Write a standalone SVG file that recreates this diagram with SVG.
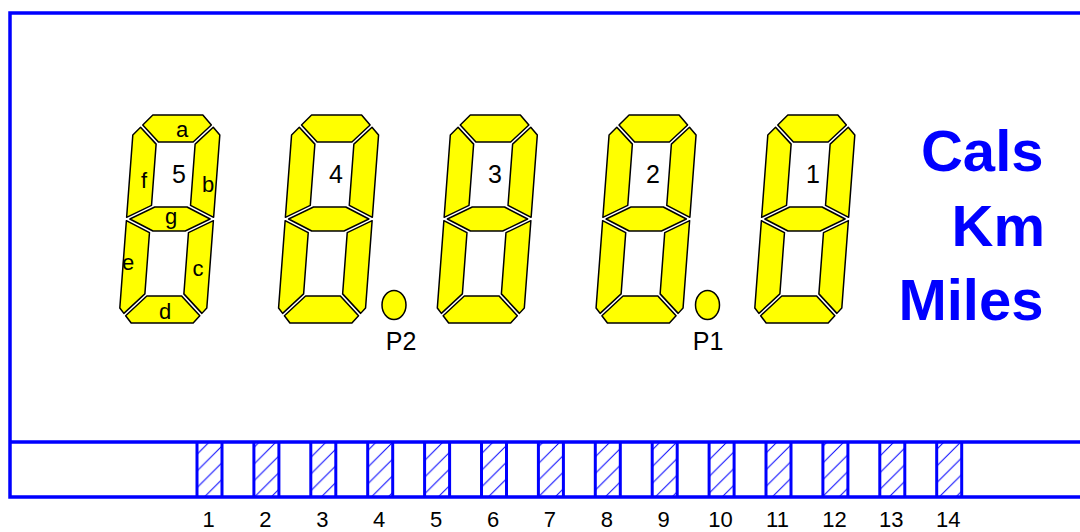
<svg xmlns="http://www.w3.org/2000/svg" width="1080" height="532" viewBox="0 0 1080 532">
<style>
.seg{fill:#ffff00;stroke:#000;stroke-width:1.5;stroke-linejoin:round}
.lbl{font-family:"Liberation Sans",Arial,sans-serif;fill:#000;text-anchor:middle}
.dl{font-size:25px}
.sl{font-size:22px}
.pl{font-size:25px}
.nl{font-size:22px}
.unit{font-family:"Liberation Sans",Arial,sans-serif;font-weight:bold;font-size:58px;fill:#0000ff;text-anchor:end}
.frame{fill:none;stroke:#0000ff;stroke-width:3.5}
.pin{fill:url(#hatch);stroke:none}
.pinl{stroke:#0000ff;stroke-width:3;fill:none}
</style>
<defs>
<pattern id="hatch" patternUnits="userSpaceOnUse" width="16.7" height="16.7">
<path d="M0,16.7 L16.7,0 M-2,2 L2,-2 M14.7,18.7 L18.7,14.7" stroke="#0000ff" stroke-width="1"/>
</pattern>
<g id="dg">
<path class="seg" d="M-17.38,-77 L-34.31,-93.93 L-25,-104 L25,-104 L34.31,-93.93 L17.38,-77 Z"/>
<path class="seg" d="M-19.5,-74.88 L-36.35,-91.73 L-43.5,-84 L-43.5,-1.68 L-19.5,-13.68 Z"/>
<path class="seg" d="M19.5,-74.88 L36.35,-91.73 L43.5,-84 L43.5,-1.68 L19.5,-13.68 Z"/>
<path class="seg" d="M-40.14,0 L-16.14,-12 L16.14,-12 L40.14,0 L16.14,12 L-16.14,12 Z"/>
<path class="seg" d="M-19.5,13.68 L-43.5,1.68 L-43.5,89 L-39.01,94.39 L-19.5,74.88 Z"/>
<path class="seg" d="M19.5,13.68 L43.5,1.68 L43.5,89 L39.01,94.39 L19.5,74.88 Z"/>
<path class="seg" d="M-17.38,77 L-37.08,96.7 L-31,104 L31,104 L37.08,96.7 L17.38,77 Z"/>
</g>
</defs>
<rect x="0" y="0" width="1080" height="532" fill="#fff"/>
<g id="frame">
<path class="frame" d="M1080,13 L10,13 L10,497 L1080,497 M10,442 L1080,442"/>
</g>
<g id="digit5">
<use href="#dg" transform="translate(170,219) skewX(-4.3)"/>
<text class="lbl dl" x="179" y="183">5</text>
<text class="lbl sl" x="182" y="137">a</text>
<text class="lbl sl" x="208" y="192">b</text>
<text class="lbl sl" x="198" y="276">c</text>
<text class="lbl sl" x="165" y="319">d</text>
<text class="lbl sl" x="128" y="270">e</text>
<text class="lbl sl" x="144" y="188">f</text>
<text class="lbl sl" x="171" y="224">g</text>
</g>
<g id="digit4">
<use href="#dg" transform="translate(328.75,219) skewX(-4.3)"/>
<text class="lbl dl" x="336" y="183">4</text>
</g>
<g id="digit3">
<use href="#dg" transform="translate(487.5,219) skewX(-4.3)"/>
<text class="lbl dl" x="495" y="183">3</text>
</g>
<g id="digit2">
<use href="#dg" transform="translate(646.25,219) skewX(-4.3)"/>
<text class="lbl dl" x="653" y="183">2</text>
</g>
<g id="digit1">
<use href="#dg" transform="translate(805,219) skewX(-4.3)"/>
<text class="lbl dl" x="813" y="183">1</text>
</g>
<g id="p2">
<ellipse class="seg" cx="394" cy="305" rx="12" ry="14.5"/>
<text class="lbl pl" x="401" y="350">P2</text>
</g>
<g id="p1">
<ellipse class="seg" cx="707.5" cy="305" rx="12" ry="14.5"/>
<text class="lbl pl" x="708" y="350">P1</text>
</g>
<g id="units">
<text class="unit" x="1043.5" y="171">Cals</text>
<text class="unit" x="1045" y="246">Km</text>
<text class="unit" x="1043.5" y="320">Miles</text>
</g>
<g id="pins">
<g id="pin1"><rect class="pin" x="197" y="442" width="25" height="55"/><path class="pinl" d="M197,442 V497 M222,442 V497"/><text class="lbl nl" x="208.5" y="527">1</text></g>
<g id="pin2"><rect class="pin" x="253.9" y="442" width="25" height="55"/><path class="pinl" d="M253.9,442 V497 M278.9,442 V497"/><text class="lbl nl" x="265.4" y="527">2</text></g>
<g id="pin3"><rect class="pin" x="310.8" y="442" width="25" height="55"/><path class="pinl" d="M310.8,442 V497 M335.8,442 V497"/><text class="lbl nl" x="322.3" y="527">3</text></g>
<g id="pin4"><rect class="pin" x="367.7" y="442" width="25" height="55"/><path class="pinl" d="M367.7,442 V497 M392.7,442 V497"/><text class="lbl nl" x="379.2" y="527">4</text></g>
<g id="pin5"><rect class="pin" x="424.6" y="442" width="25" height="55"/><path class="pinl" d="M424.6,442 V497 M449.6,442 V497"/><text class="lbl nl" x="436.1" y="527">5</text></g>
<g id="pin6"><rect class="pin" x="481.5" y="442" width="25" height="55"/><path class="pinl" d="M481.5,442 V497 M506.5,442 V497"/><text class="lbl nl" x="493" y="527">6</text></g>
<g id="pin7"><rect class="pin" x="538.4" y="442" width="25" height="55"/><path class="pinl" d="M538.4,442 V497 M563.4,442 V497"/><text class="lbl nl" x="549.9" y="527">7</text></g>
<g id="pin8"><rect class="pin" x="595.3" y="442" width="25" height="55"/><path class="pinl" d="M595.3,442 V497 M620.3,442 V497"/><text class="lbl nl" x="606.8" y="527">8</text></g>
<g id="pin9"><rect class="pin" x="652.2" y="442" width="25" height="55"/><path class="pinl" d="M652.2,442 V497 M677.2,442 V497"/><text class="lbl nl" x="663.7" y="527">9</text></g>
<g id="pin10"><rect class="pin" x="709.1" y="442" width="25" height="55"/><path class="pinl" d="M709.1,442 V497 M734.1,442 V497"/><text class="lbl nl" x="720.6" y="527">10</text></g>
<g id="pin11"><rect class="pin" x="766" y="442" width="25" height="55"/><path class="pinl" d="M766,442 V497 M791,442 V497"/><text class="lbl nl" x="777.5" y="527">11</text></g>
<g id="pin12"><rect class="pin" x="822.9" y="442" width="25" height="55"/><path class="pinl" d="M822.9,442 V497 M847.9,442 V497"/><text class="lbl nl" x="834.4" y="527">12</text></g>
<g id="pin13"><rect class="pin" x="879.8" y="442" width="25" height="55"/><path class="pinl" d="M879.8,442 V497 M904.8,442 V497"/><text class="lbl nl" x="891.3" y="527">13</text></g>
<g id="pin14"><rect class="pin" x="936.7" y="442" width="25" height="55"/><path class="pinl" d="M936.7,442 V497 M961.7,442 V497"/><text class="lbl nl" x="948.2" y="527">14</text></g>
</g>
</svg>
